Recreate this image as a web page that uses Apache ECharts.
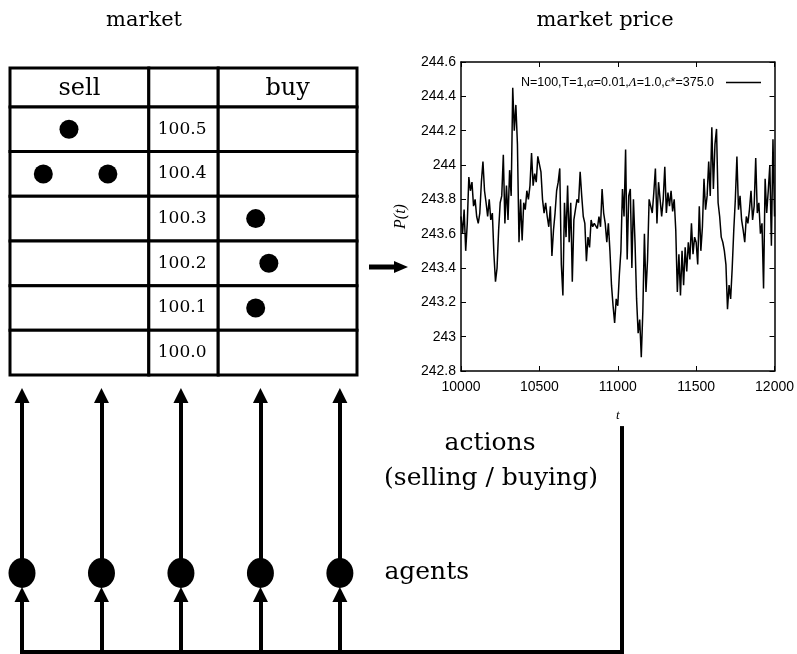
<!DOCTYPE html>
<html>
<head>
<meta charset="utf-8">
<script src="https://cdn.jsdelivr.net/npm/echarts@6/dist/echarts.min.js"></script>
<style>
html, body { margin: 0; padding: 0; background: #fff; }
#chart { width: 797px; height: 654px; }
</style>
</head>
<body>
<div id="chart"></div>
<script>
// price series P(t), one reading every 10 time steps from t = 10000
const timeStart = 10000;
const timeStep = 10;
const prices = [
    243.70, 243.60, 243.74, 243.50, 243.66, 243.93, 243.85, 243.90, 243.76, 243.80,
    243.70, 243.66, 243.72, 243.90, 244.02, 243.85, 243.78, 243.70, 243.80, 243.68,
    243.72, 243.48, 243.32, 243.40, 243.62, 243.78, 243.82, 244.06, 243.66, 243.88,
    243.68, 243.97, 243.82, 244.45, 244.20, 244.35, 244.12, 243.55, 243.80, 243.56,
    243.78, 243.74, 243.85, 243.80, 243.88, 244.07, 243.88, 243.95, 243.90, 244.05,
    244.06, 243.96, 243.80, 243.72, 243.78, 243.70, 243.64, 243.76, 243.47, 243.62,
    243.72, 243.85, 243.90, 243.98, 243.42, 243.24, 243.78, 243.58, 243.88, 243.55,
    243.78, 243.32, 243.68, 243.74, 243.80, 243.78, 243.96, 243.82, 243.70, 243.66,
    243.44, 243.58, 243.52, 243.68, 243.64, 243.66, 243.65, 243.63, 243.70, 243.64,
    243.86, 243.72, 243.66, 243.55, 243.66, 243.50, 243.30, 243.18, 243.08, 243.22,
    243.18, 243.36, 243.50, 243.86, 243.70, 244.09, 243.45, 243.82, 243.86, 243.40,
    243.80, 243.55, 243.22, 243.02, 243.10, 242.88, 243.15, 243.60, 243.26, 243.45,
    243.80, 243.76, 243.72, 243.84, 243.98, 243.66, 243.90, 243.80, 243.70, 243.80,
    243.99, 243.72, 243.84, 243.76, 243.85, 243.73, 243.80, 243.62, 243.26, 243.48,
    243.24, 243.50, 243.30, 243.52, 243.38, 243.55, 243.45, 243.66, 243.48, 243.58,
    243.55, 243.42, 243.76, 243.50, 243.64, 243.92, 243.74, 243.82, 244.02, 243.82,
    244.22, 243.86, 244.12, 244.21, 243.78, 243.70, 243.58, 243.55, 243.50, 243.42,
    243.16, 243.30, 243.22, 243.40, 243.62, 243.80, 244.05, 243.74, 243.82, 243.68,
    243.62, 243.55, 243.70, 243.66, 243.74, 243.85, 243.68, 243.76, 244.04, 243.72,
    243.78, 243.60, 243.66, 243.28, 243.92, 243.72, 243.85, 244.00, 243.53, 244.15,
    243.70
];

// order book
const bookHeader = ['sell', '', 'buy'];
const priceLevels = ['100.5', '100.4', '100.3', '100.2', '100.1', '100.0'];
// [place inside the book, price level]
const sellOrders = [[0.85, '100.5'], [0.48, '100.4'], [1.41, '100.4']];
const buyOrders = [[3.54, '100.3'], [3.73, '100.2'], [3.54, '100.1']];

const agents = ['agent 1', 'agent 2', 'agent 3', 'agent 4', 'agent 5'];

const serif = '"DejaVu Serif", serif';
const sans = '"Liberation Sans", Arial, sans-serif';

// book layout: sell | price | buy, header row on top
const bookColumns = [[0, 2], [2, 3], [3, 5]];
const bookYMin = 0.13;
const bookRows = [''].concat(priceLevels);
const cells = [];
bookRows.forEach((level, r) => {
    bookColumns.forEach((col, c) => {
        cells.push({
            value: [col[0], col[1], r],
            text: r === 0 ? bookHeader[c] : (c === 1 ? level : ''),
            header: r === 0
        });
    });
});
function rowOf(level) {
    return priceLevels.indexOf(level) + 1;
}

// agent layer
const agentLevel = 0.308;
const feedLevel = 0.224;
const busEnd = 7.55;
const tLinkTop = 0.873;

const priceData = prices.map((p, i) => [timeStart + i * timeStep, p]);

const arrowLines = [];
agents.forEach((a, i) => {
    arrowLines.push({ coords: [[i, 0], [i, feedLevel]] });
    arrowLines.push({ coords: [[i, agentLevel], [i, 1]] });
});
const plainLines = [
    { coords: [[0, 0], [busEnd, 0]] },
    { coords: [[busEnd, 0], [busEnd, tLinkTop]] }
];

const frameAxis = { lineStyle: { color: '#000', width: 1.5 } };
const innerTick = { inside: true, length: 5, lineStyle: { color: '#000', width: 1 } };
const dotStyle = { color: '#000', opacity: 1 };

const chart = echarts.init(document.getElementById('chart'));

const option = {
    animation: false,
    backgroundColor: '#fff',
    title: [
        { text: 'market', left: 139, top: 5, textAlign: 'center',
          textStyle: { fontFamily: serif, fontSize: 21, fontWeight: 'normal', color: '#000' } },
        { text: 'market price', left: 600, top: 5, textAlign: 'center',
          textStyle: { fontFamily: serif, fontSize: 21, fontWeight: 'normal', color: '#000' } }
    ],
    legend: {
        data: ['price'],
        right: 31,
        top: 71,
        align: 'right',
        icon: 'rect',
        itemWidth: 35,
        itemHeight: 1.3,
        formatter: () => 'N=100,T=1,{i|α}=0.01,{i|Λ}=1.0,{i|c}*=375.0  ',
        textStyle: {
            fontFamily: sans, fontSize: 12.5, color: '#000',
            rich: { i: { fontFamily: '"Liberation Serif", serif', fontStyle: 'italic', fontSize: 13, color: '#000' } }
        }
    },
    grid: [
        { left: 461, top: 62, width: 319, height: 309 },
        { left: 10, top: 68, width: 347, height: 307 },
        { left: 22, top: 395.5, width: 600, height: 256.5 }
    ],
    xAxis: [
        {
            gridIndex: 0, type: 'value', min: 10000, max: 12000, interval: 500,
            axisLine: frameAxis, axisTick: innerTick, splitLine: { show: false },
            axisLabel: { fontFamily: sans, fontSize: 14, color: '#000', margin: 9, formatter: v => String(v) },
            name: 't', nameLocation: 'middle', nameGap: 38,
            nameTextStyle: { fontFamily: '"Liberation Serif", serif', fontStyle: 'italic', fontSize: 13, color: '#000' }
        },
        {
            gridIndex: 0, type: 'value', position: 'top', min: 10000, max: 12000, interval: 500,
            axisLine: frameAxis, axisTick: innerTick, splitLine: { show: false },
            axisLabel: { show: false }
        },
        { gridIndex: 1, type: 'value', min: 0, max: 5, show: false },
        { gridIndex: 2, type: 'value', min: 0, max: busEnd, show: false }
    ],
    yAxis: [
        {
            gridIndex: 0, type: 'value', min: 242.8, max: 244.6, interval: 0.2,
            axisLine: frameAxis, axisTick: innerTick, splitLine: { show: false },
            axisLabel: {
                fontFamily: sans, fontSize: 14, color: '#000', margin: 5,
                formatter: v => String(Math.round(v * 10) / 10)
            },
            name: 'P(t)', nameLocation: 'middle', nameGap: 52, nameRotate: 90,
            nameTextStyle: { fontFamily: '"Liberation Serif", serif', fontStyle: 'italic', fontSize: 16, color: '#000' }
        },
        {
            gridIndex: 0, type: 'value', position: 'right', min: 242.8, max: 244.6, interval: 0.2,
            axisLine: frameAxis, axisTick: innerTick, splitLine: { show: false },
            axisLabel: { show: false }
        },
        { gridIndex: 1, type: 'value', min: bookYMin, max: 7, inverse: true, show: false },
        { gridIndex: 2, type: 'value', min: 0, max: 1, show: false }
    ],
    graphic: [
        { type: 'text', x: 490, y: 443,
          style: { text: 'actions', fontFamily: serif, fontSize: 25, fill: '#000', align: 'center', verticalAlign: 'middle' } },
        { type: 'text', x: 491, y: 478,
          style: { text: '(selling / buying)', fontFamily: serif, fontSize: 25, fill: '#000', align: 'center', verticalAlign: 'middle' } },
        { type: 'rect', shape: { x: 369, y: 264.5, width: 27, height: 5 }, style: { fill: '#000' } },
        { type: 'polygon', shape: { points: [[394, 261], [408, 267], [394, 273]] }, style: { fill: '#000' } }
    ],
    series: [
        {
            name: 'price',
            type: 'line',
            xAxisIndex: 0, yAxisIndex: 0,
            data: priceData,
            showSymbol: false, symbol: 'none',
            color: '#000',
            lineStyle: { color: '#000', width: 1.5 }
        },
        {
            name: 'book',
            type: 'custom',
            xAxisIndex: 2, yAxisIndex: 2,
            data: cells.map(c => c.value),
            renderItem: function (params, api) {
                const cell = cells[params.dataIndex];
                const r = api.value(2);
                const p0 = api.coord([api.value(0), Math.max(r, bookYMin)]);
                const p1 = api.coord([api.value(1), r + 1]);
                return {
                    type: 'group',
                    children: [
                        {
                            type: 'rect',
                            shape: { x: p0[0], y: p0[1], width: p1[0] - p0[0], height: p1[1] - p0[1] },
                            style: { fill: '#fff', stroke: '#000', lineWidth: 3 }
                        },
                        {
                            type: 'text',
                            style: {
                                text: cell.text,
                                x: cell.header ? (p0[0] + p1[0]) / 2 : p0[0] + 9,
                                y: (p0[1] + p1[1]) / 2 + (cell.header ? 1 : 0),
                                align: cell.header ? 'center' : 'left',
                                verticalAlign: 'middle',
                                fontFamily: serif,
                                fontSize: cell.header ? 24 : 17,
                                fill: '#000'
                            }
                        }
                    ]
                };
            },
            z: 2
        },
        {
            name: 'sell orders',
            type: 'scatter',
            xAxisIndex: 2, yAxisIndex: 2,
            data: sellOrders.map(o => [o[0], rowOf(o[1]) + 0.5]),
            symbol: 'circle', symbolSize: 19,
            itemStyle: dotStyle,
            z: 5
        },
        {
            name: 'buy orders',
            type: 'scatter',
            xAxisIndex: 2, yAxisIndex: 2,
            data: buyOrders.map(o => [o[0], rowOf(o[1]) + 0.5]),
            symbol: 'circle', symbolSize: 19,
            itemStyle: dotStyle,
            z: 5
        },
        {
            name: 'arrows',
            type: 'lines',
            coordinateSystem: 'cartesian2d',
            xAxisIndex: 3, yAxisIndex: 3,
            clip: false,
            data: arrowLines,
            symbol: ['none', 'triangle'],
            symbolSize: [12, 15],
            lineStyle: { color: '#000', width: 4, opacity: 1 },
            z: 3
        },
        {
            name: 'bus',
            type: 'lines',
            coordinateSystem: 'cartesian2d',
            xAxisIndex: 3, yAxisIndex: 3,
            clip: false,
            data: plainLines,
            symbol: ['none', 'none'],
            lineStyle: { color: '#000', width: 4, opacity: 1, cap: 'square' },
            z: 3
        },
        {
            name: 'agents',
            type: 'scatter',
            xAxisIndex: 3, yAxisIndex: 3,
            clip: false,
            data: agents.map((a, i) => {
                const item = { value: [i, agentLevel] };
                if (i === agents.length - 1) {
                    item.label = {
                        show: true, position: 'right', distance: 31,
                        formatter: 'agents', fontFamily: serif, fontSize: 25, color: '#000'
                    };
                }
                return item;
            }),
            symbol: 'circle', symbolSize: [27, 30],
            itemStyle: dotStyle,
            z: 5
        }
    ]
};

chart.setOption(option);
</script>
</body>
</html>
